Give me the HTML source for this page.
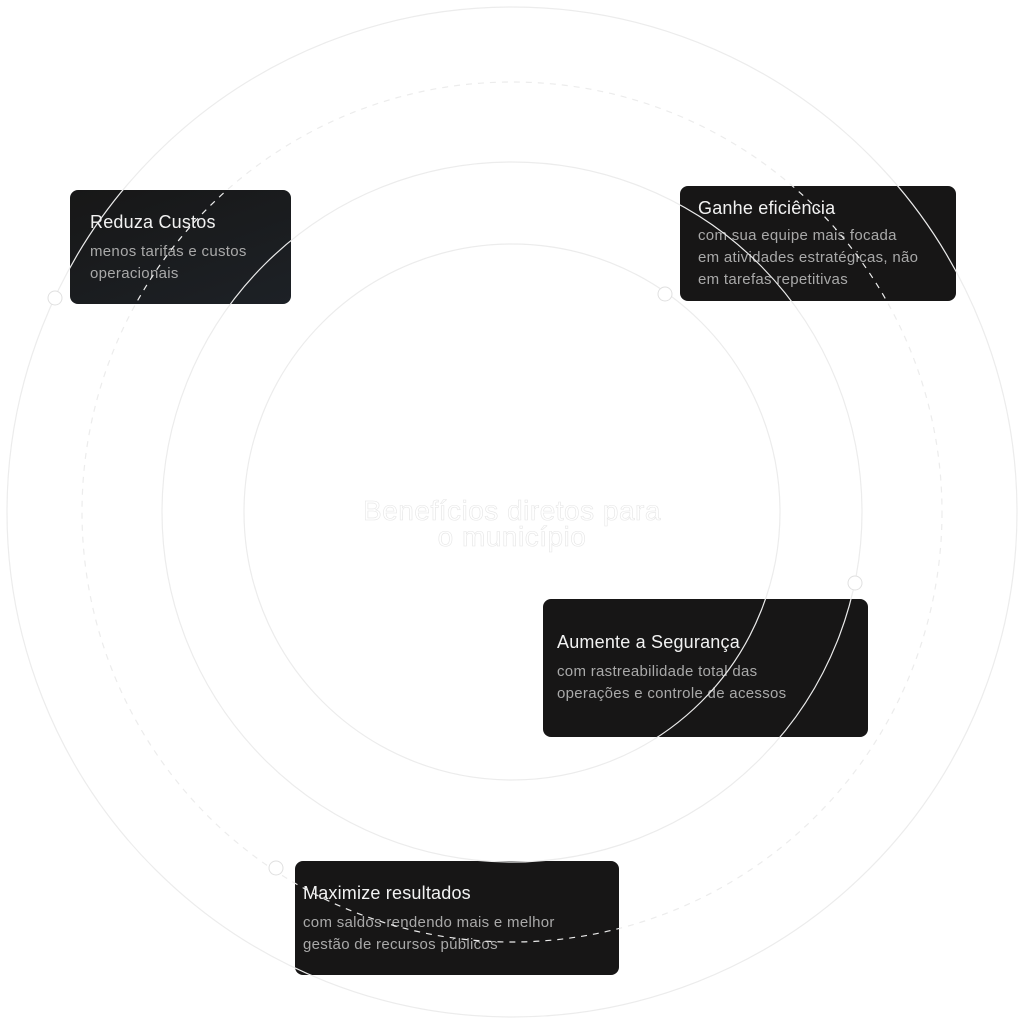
<!DOCTYPE html>
<html><head><meta charset="utf-8"><style>
html,body{margin:0;padding:0;background:#fff;}
body{width:1024px;height:1024px;position:relative;overflow:hidden;font-family:"Liberation Sans",sans-serif;}
.card{position:absolute;background:#171616;border-radius:8px;box-sizing:border-box;color:#fff;white-space:nowrap;}
.card h3{margin:0;font-weight:normal;font-size:18px;color:#f2f2f2;letter-spacing:0.2px;}
.card p{margin:8px 0 0;font-size:15px;line-height:22px;color:#a9a9a9;letter-spacing:0.3px;}
.center{position:absolute;left:262px;top:498px;width:500px;text-align:center;font-size:28px;line-height:26px;letter-spacing:0.5px;color:#fff;-webkit-text-stroke:0.6px #e6e6e6;}
svg{position:absolute;left:0;top:0;}
</style></head><body>
<div class="card" style="left:70px;top:190px;width:221px;height:114px;padding:22px 20px;background:linear-gradient(160deg,#171717,#1d2126);"><h3>Reduza Custos</h3><p>menos tarifas e custos<br>operacionais</p></div>
<div class="card" style="left:680px;top:186px;width:276px;height:115px;padding:12px 18px;"><h3>Ganhe eficiência</h3><p style="margin-top:6px">com sua equipe mais focada<br>em atividades estratégicas, não<br>em tarefas repetitivas</p></div>
<div class="card" style="left:543px;top:599px;width:325px;height:138px;padding:33px 14px;"><h3>Aumente a Segurança</h3><p>com rastreabilidade total das<br>operações e controle de acessos</p></div>
<div class="card" style="left:295px;top:861px;width:324px;height:114px;padding:22px 8px;"><h3>Maximize resultados</h3><p>com saldos rendendo mais e melhor<br>gestão de recursos públicos</p></div>
<div class="center">Benefícios diretos para<br>o município</div>
<svg width="1024" height="1024" viewBox="0 0 1024 1024">
<g fill="none" stroke="#ececec" stroke-width="1.2">
<circle cx="512" cy="512" r="505"/>
<circle cx="512" cy="512" r="430" stroke-dasharray="6 6"/>
<circle cx="512" cy="512" r="350"/>
<circle cx="512" cy="512" r="268"/>
</g>
<g fill="#fff" stroke="#e0e0e0" stroke-width="1">
<circle cx="55" cy="298" r="7"/>
<circle cx="665" cy="294" r="7"/>
<circle cx="855" cy="583" r="7"/>
<circle cx="276" cy="868" r="7"/>
</g>
</svg>
</body></html>
